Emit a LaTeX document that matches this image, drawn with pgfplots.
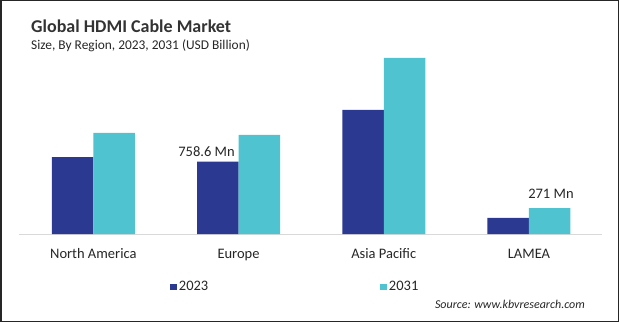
\documentclass[border=0pt]{standalone}
\usepackage{pgfplots}
\pgfplotsset{compat=1.18}
\usepackage{fontspec}
\setmainfont{Carlito}
\definecolor{navy}{RGB}{43,57,144}
\definecolor{cyanb}{RGB}{79,195,208}
\begin{document}
\begin{tikzpicture}[x=1pt,y=1pt]
\draw[line width=1.5pt, black!85] (0.75,0.75) rectangle (618.25,321.25);
\node[anchor=base west, inner sep=0, font=\fontsize{18}{20}\selectfont\bfseries, text=black!80] at (31,289) {Global HDMI Cable Market};
\node[anchor=base west, inner sep=0, font=\fontsize{13.4}{16}\selectfont, text=black!85] at (31,272) {Size, By Region, 2023, 2031 (USD Billion)};
\node[anchor=base east, inner sep=0, font=\fontsize{12}{14}\selectfont\itshape, text=black!85] at (585,14) {Source: www.kbvresearch.com};
\begin{axis}[
  at={(19pt,88pt)}, anchor=south west,
  scale only axis, width=583pt, height=190.5pt,
  xmin=-0.512, xmax=3.503, ymin=0, ymax=2000,
  ybar=0pt, bar width=41.5pt,
  axis x line*=bottom, axis y line=none,
  x axis line style={draw=black!15, line width=0.8pt},
  xtick=data, xticklabels={North America, Europe, Asia Pacific, LAMEA},
  ytick=\empty,
  major tick length=0pt,
  xticklabel style={anchor=base, yshift=-24pt, inner sep=0pt, font=\fontsize{14.5}{17}\selectfont, text=black!85},
  legend style={at={(axis description cs:0.259,-0.278)}, anchor=west, draw=none, fill=none,
    legend columns=2, font=\fontsize{14.5}{17}\selectfont, text=black!85,
    /tikz/every even column/.append style={column sep=170pt}, inner sep=0pt},
  clip=false,
]
\addplot[fill=navy, draw=none, legend image code/.code={\fill[navy] (0pt,-3.35pt) rectangle (6.7pt,3.35pt);}] coordinates {(0,808) (1,758.6) (2,1304) (3,168)};
\addplot[fill=cyanb, draw=none, legend image code/.code={\fill[cyanb] (0pt,-3.35pt) rectangle (6.7pt,3.35pt);}] coordinates {(0,1062) (1,1041) (2,1850) (3,271)};
\legend{2023, 2031}
\node[anchor=base, inner sep=0, font=\fontsize{14.5}{17}\selectfont, text=black!85, xshift=-32pt, yshift=5.3pt] at (axis cs:1,758.6) {758.6 Mn};
\node[anchor=base, inner sep=0, font=\fontsize{14.5}{17}\selectfont, text=black!85, xshift=22pt, yshift=10pt] at (axis cs:3,271) {271 Mn};
\end{axis}
\end{tikzpicture}
\end{document}
